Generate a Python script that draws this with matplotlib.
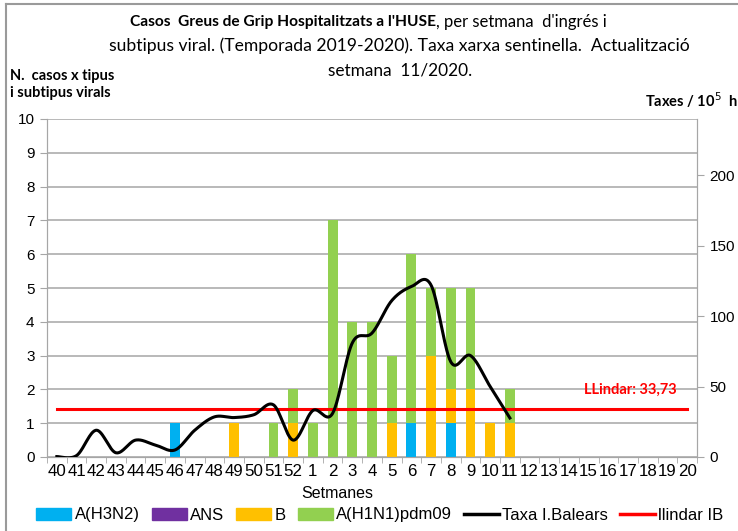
import numpy as np
import matplotlib
matplotlib.use("Agg")
import matplotlib.pyplot as plt
from matplotlib import font_manager
from matplotlib.patches import Patch
from matplotlib.lines import Line2D

# ---------------- data ----------------
weeks = [str(w) for w in range(40, 53)] + [str(w) for w in range(1, 21)]
h3n2 = [0, 0, 0, 0, 0, 0, 1, 0, 0, 0, 0, 0, 0, 0, 0, 0, 0, 0, 1, 0, 1, 0, 0, 0] + [0] * 9
ans = [0] * 33
b = [0, 0, 0, 0, 0, 0, 0, 0, 0, 1, 0, 0, 1, 0, 0, 0, 0, 1, 0, 3, 1, 2, 1, 1] + [0] * 9
h1n1 = [0, 0, 0, 0, 0, 0, 0, 0, 0, 0, 0, 1, 1, 1, 7, 4, 4, 2, 5, 2, 3, 3, 0, 1] + [0] * 9
taxa = [0.3, 1, 19, 3, 12, 8.5, 5, 19, 28.5, 28, 30, 37, 12, 33, 31, 81, 88, 111, 121, 122, 67.6, 72, 50, 27.7]
llindar = 33.73

# ---------------- fonts ----------------
def has_font(name):
    try:
        font_manager.findfont(name, fallback_to_default=False)
        return True
    except Exception:
        return False

narrow = "Lato" if has_font("Lato") else "Open Sans"
arial = "Liberation Sans"

c_blue, c_purple, c_orange, c_green = "#00B0F0", "#7030A0", "#FFC000", "#92D050"
grid_c = "#a6a6a6"

fig = plt.figure(figsize=(7.38, 5.31), dpi=100)
W, H = 738, 531
def fx(px): return px / W
def fy(py): return 1 - py / H

# outer frame (left and top only)
fig.add_artist(Line2D([fx(6), fx(6)], [0, fy(4)], transform=fig.transFigure, color="#9a9a9a", lw=1.5))
fig.add_artist(Line2D([fx(6), 1], [fy(4), fy(4)], transform=fig.transFigure, color="#9a9a9a", lw=1.5))

ax = fig.add_axes([fx(47), fy(457), fx(697) - fx(47), fy(119) - fy(457)])
ax2 = ax.twinx()

x = np.arange(len(weeks))
bw = 0.5
h3 = np.array(h3n2, float); an = np.array(ans, float); bb = np.array(b, float); h1 = np.array(h1n1, float)
ax.bar(x, h3, bw, color=c_blue, zorder=3)
ax.bar(x, an, bw, bottom=h3, color=c_purple, zorder=3)
ax.bar(x, bb, bw, bottom=h3 + an, color=c_orange, zorder=3)
ax.bar(x, h1, bw, bottom=h3 + an + bb, color=c_green, zorder=3)

ax.set_xlim(-0.5, len(weeks) - 0.5)
ax.set_ylim(0, 10)
ax.set_yticks(range(0, 11))
ax.yaxis.grid(True, color=grid_c, lw=1.1, zorder=0)
ax.set_axisbelow(True)
ax.set_xticks(x)
ax.set_xticklabels(weeks, fontfamily=arial, fontsize=12.2)
ax.set_xticks(np.arange(-0.5, len(weeks), 1), minor=True)
ax.tick_params(axis="x", which="major", length=0, pad=5)
ax.tick_params(axis="x", which="minor", length=4, color=grid_c, direction="out")
ax.tick_params(axis="y", length=5, color=grid_c, labelsize=11, pad=4)
for lab in ax.get_yticklabels():
    lab.set_fontfamily(arial)
ax.spines["top"].set_visible(False)
ax2.spines["top"].set_visible(False)
for s in ["left", "bottom", "right"]:
    ax.spines[s].set_color(grid_c)
    ax2.spines[s].set_color(grid_c)

# smoothed line (Catmull-Rom like Excel smoothing)
def smooth(xs, ys, n=30):
    xs = np.asarray(xs, float); ys = np.asarray(ys, float)
    px = np.concatenate([[xs[0]], xs, [xs[-1]]])
    py = np.concatenate([[ys[0]], ys, [ys[-1]]])
    ox, oy = [], []
    for i in range(1, len(px) - 2):
        p0x, p1x, p2x, p3x = px[i - 1], px[i], px[i + 1], px[i + 2]
        p0y, p1y, p2y, p3y = py[i - 1], py[i], py[i + 1], py[i + 2]
        c1x, c1y = p1x + (p2x - p0x) / 6, p1y + (p2y - p0y) / 6
        c2x, c2y = p2x - (p3x - p1x) / 6, p2y - (p3y - p1y) / 6
        t = np.linspace(0, 1, n)
        ox.append((1 - t) ** 3 * p1x + 3 * (1 - t) ** 2 * t * c1x + 3 * (1 - t) * t ** 2 * c2x + t ** 3 * p2x)
        oy.append((1 - t) ** 3 * p1y + 3 * (1 - t) ** 2 * t * c1y + 3 * (1 - t) * t ** 2 * c2y + t ** 3 * p2y)
    return np.concatenate(ox), np.concatenate(oy)

sx, sy = smooth(np.arange(len(taxa)), taxa)
ax2.plot(sx, sy, color="black", lw=2.2, zorder=5)
ax2.plot([0, len(weeks) - 1], [llindar, llindar], color="#FF0000", lw=2.2, zorder=4)
ax2.set_ylim(0, 240)
ax2.set_yticks([0, 50, 100, 150, 200])
ax2.tick_params(axis="y", length=5, color=grid_c, labelsize=11, pad=4)
for lab in ax2.get_yticklabels():
    lab.set_fontfamily(arial)
ax2.text(29.1, 48, "LLindar: 33,73", color="#FF0000", fontweight="bold",
         fontfamily=narrow, fontsize=10.5, ha="center", va="center")

# ---------------- texts ----------------
t1 = fig.text(fx(130), fy(22), "Casos  Greus de Grip Hospitalitzats a l'HUSE", fontfamily=narrow,
              fontweight="bold", fontsize=11.2, ha="left", va="center")
fig.canvas.draw()
bb1 = t1.get_window_extent()
fig.text(bb1.x1 / W, fy(22), ", per setmana  d'ingrés i", fontfamily=narrow, fontsize=12,
         ha="left", va="center")
fig.text(fx(399), fy(46), "subtipus viral. (Temporada 2019-2020). Taxa xarxa sentinella.  Actualització",
         fontfamily=narrow, fontsize=12.6, ha="center", va="center")
fig.text(fx(400), fy(70), "setmana  11/2020.", fontfamily=narrow, fontsize=12.4, ha="center", va="center")

fig.text(fx(10), fy(76), "N.  casos x tipus", fontfamily=narrow, fontweight="bold", fontsize=10.5,
         ha="left", va="center")
fig.text(fx(10), fy(93), "i subtipus virals", fontfamily=narrow, fontweight="bold", fontsize=10.5,
         ha="left", va="center")
fig.text(fx(645), fy(100), "Taxes / 10$^{5}$  h", fontfamily=narrow, fontweight="bold", fontsize=10.5,
         ha="left", va="center")
fig.text(fx(337), fy(494), "Setmanes", fontfamily=arial, fontsize=11.5, ha="center", va="center")

handles = [Patch(color=c_blue), Patch(color=c_purple), Patch(color=c_orange), Patch(color=c_green),
           Line2D([], [], color="black", lw=2.5), Line2D([], [], color="#FF0000", lw=2.5)]
labels = ["A(H3N2)", "ANS", "B", "A(H1N1)pdm09", "Taxa I.Balears", "llindar IB"]
fig.legend(handles, labels, loc="center", bbox_to_anchor=(fx(380), fy(515)), ncol=6, frameon=False,
           prop={"family": arial, "size": 12}, handlelength=2.1, handleheight=0.75,
           handletextpad=0.2, columnspacing=0.72, borderaxespad=0, borderpad=0)

fig.savefig("out.png", dpi=100)
